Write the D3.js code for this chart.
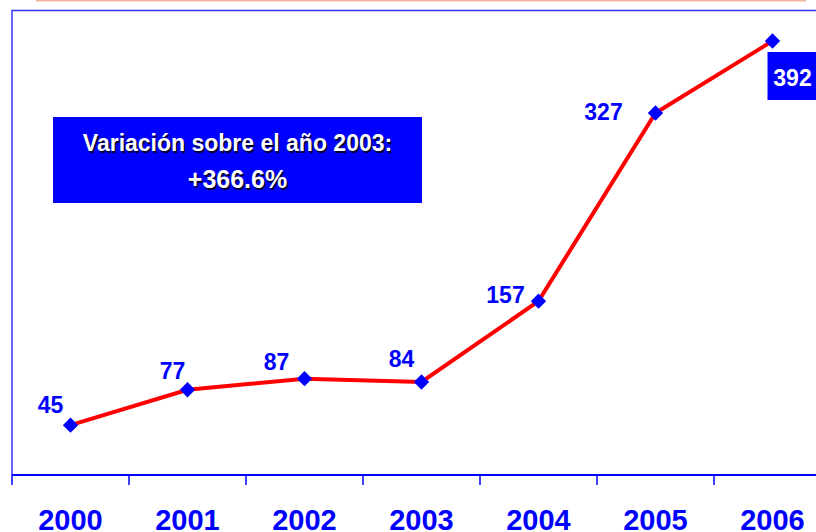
<!DOCTYPE html>
<html>
<head>
<meta charset="utf-8">
<script src="https://cdn.jsdelivr.net/npm/d3@7"></script>
<style>
  body { margin: 0; background: #fff; }
  text { font-family: Arial, "Liberation Sans", sans-serif; font-weight: bold; }
</style>
</head>
<body>
<div class="chart"></div>
<script>
// datos
const years = ["2000", "2001", "2002", "2003", "2004", "2005", "2006"];
const values = [45, 77, 87, 84, 157, 327, 392];
const noteLines = ["Variación sobre el año 2003:", "+366.6%"];

const width = 816;
const height = 532;
const blue = "#0000ff";

const svg = d3.select("div.chart")
    .append("svg")
    .attr("width", width)
    .attr("height", height);

const x = d3.scaleBand()
    .domain(years)
    .range([12, 831]);

const y = d3.scaleLinear()
    .domain([0, 420])
    .range([475, 10]);

// linea naranja de arriba (borde de otro cuadro)
svg.append("line")
    .attr("x1", 36).attr("x2", 806)
    .attr("y1", 0.5).attr("y2", 0.5)
    .attr("stroke", "#f0b49c")
    .attr("stroke-width", 2);

// marco del grafico
svg.append("path")
    .attr("d", "M12,475 V10.5 H816")
    .attr("fill", "none")
    .attr("stroke", "#3333ff")
    .attr("stroke-width", 1.5);

// eje x
const xAxis = svg.append("g")
    .attr("transform", "translate(0,475)");
xAxis.append("line")
    .attr("x1", 12).attr("x2", 816)
    .attr("stroke", blue)
    .attr("stroke-width", 2);
xAxis.selectAll("line.tick")
    .data(years)
    .enter()
    .append("line")
    .attr("class", "tick")
    .attr("x1", function(d) { return x(d); })
    .attr("x2", function(d) { return x(d); })
    .attr("y1", 0).attr("y2", 10)
    .attr("stroke", blue)
    .attr("stroke-width", 1.5);
xAxis.selectAll("text")
    .data(years)
    .enter()
    .append("text")
    .attr("x", function(d) { return x(d) + x.bandwidth() / 2; })
    .attr("y", 55)
    .attr("text-anchor", "middle")
    .attr("fill", blue)
    .attr("font-size", "29px")
    .text(function(d) { return d; });

// linea
const line = d3.line()
    .x(function(d, i) { return x(years[i]) + x.bandwidth() / 2; })
    .y(function(d) { return y(d); });

svg.append("path")
    .datum(values)
    .attr("d", line)
    .attr("fill", "none")
    .attr("stroke", "#ff0000")
    .attr("stroke-width", 4);

svg.selectAll("path.marker")
    .data(values)
    .enter()
    .append("path")
    .attr("class", "marker")
    .attr("d", d3.symbol().type(d3.symbolDiamond2).size(150))
    .attr("transform", function(d, i) {
        return "translate(" + (x(years[i]) + x.bandwidth() / 2) + "," + y(d) + ")";
    })
    .attr("fill", blue);

// etiquetas de valores (la ultima va en un cuadro)
const labelOffsets = [[-20, -12], [-15, -11], [-28, -9], [-20, -15], [-33, 2], [-52, 7]];
svg.selectAll("text.value")
    .data(values.slice(0, -1))
    .enter()
    .append("text")
    .attr("class", "value")
    .attr("x", function(d, i) { return x(years[i]) + x.bandwidth() / 2 + labelOffsets[i][0]; })
    .attr("y", function(d, i) { return y(d) + labelOffsets[i][1]; })
    .attr("text-anchor", "middle")
    .attr("fill", blue)
    .attr("font-size", "23px")
    .text(function(d) { return d; });

const last = values.length - 1;
const lastX = x(years[last]) + x.bandwidth() / 2;
svg.append("rect")
    .attr("x", lastX - 5)
    .attr("y", y(values[last]) + 11)
    .attr("width", 54)
    .attr("height", 48)
    .attr("fill", blue);
svg.append("text")
    .attr("x", lastX + 20)
    .attr("y", y(values[last]) + 45)
    .attr("text-anchor", "middle")
    .attr("fill", "#fff")
    .attr("font-size", "23px")
    .text(values[last]);

// cuadro de nota
svg.append("rect")
    .attr("x", 53).attr("y", 117)
    .attr("width", 369).attr("height", 86)
    .attr("fill", blue);

const note = svg.append("g");
noteLines.forEach(function(t, i) {
    const ty = i === 0 ? 151 : 188;
    const fs = i === 0 ? "23px" : "25px";
    note.append("text")
        .attr("x", 239).attr("y", ty + 1.5)
        .attr("text-anchor", "middle")
        .attr("fill", "#000033")
        .attr("font-size", fs)
        .text(t);
    note.append("text")
        .attr("x", 237.5).attr("y", ty)
        .attr("text-anchor", "middle")
        .attr("fill", "#fff")
        .attr("font-size", fs)
        .text(t);
});
</script>
</body>
</html>
